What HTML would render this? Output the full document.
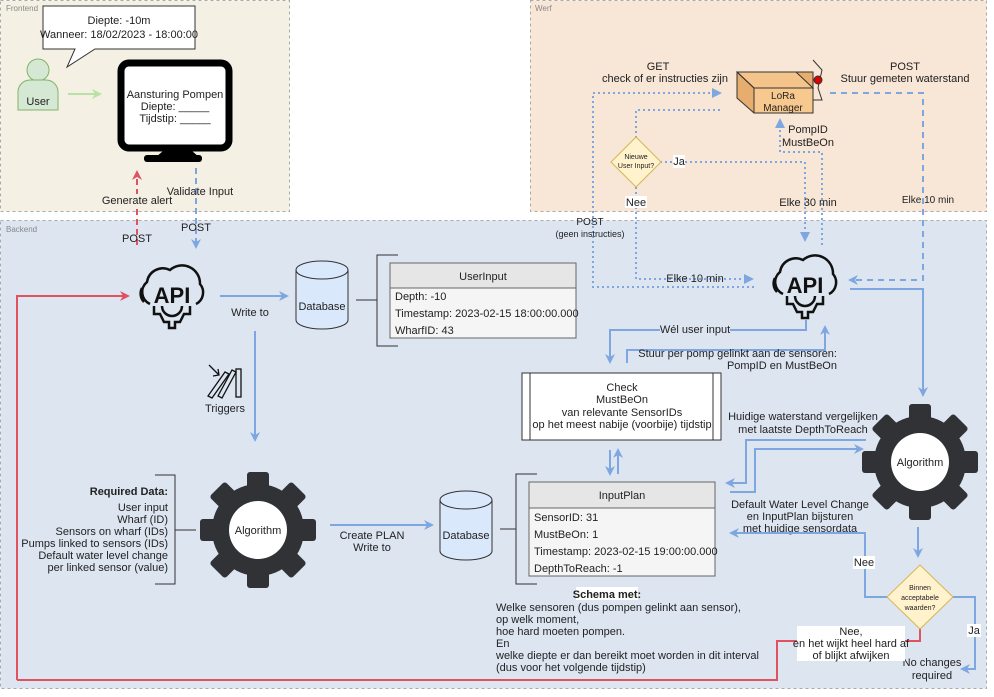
<!DOCTYPE html>
<html><head><meta charset="utf-8"><style>
html,body{margin:0;padding:0;background:#fff;}
svg{display:block;font-family:"Liberation Sans",Arial,sans-serif;}
text{font-size:11px;fill:#222;}
</style></head><body>
<svg width="994" height="697" viewBox="0 0 994 697" xmlns="http://www.w3.org/2000/svg">
<defs>
<marker id="ab" markerWidth="10" markerHeight="10" refX="8" refY="5" orient="auto" markerUnits="userSpaceOnUse"><path d="M0,0 L10,5 L0,10 L3,5z" fill="#7ea6e0"/></marker>
<marker id="ar" markerWidth="10" markerHeight="10" refX="8" refY="5" orient="auto" markerUnits="userSpaceOnUse"><path d="M0,0 L10,5 L0,10 L3,5z" fill="#e05260"/></marker>
<marker id="ag" markerWidth="10" markerHeight="10" refX="8" refY="5" orient="auto" markerUnits="userSpaceOnUse"><path d="M0,0 L10,5 L0,10 L3,5z" fill="#b9e0a5"/></marker>
<g id="gear">
<g fill="#303236">
<rect x="-11" y="-58" width="22" height="116" rx="3"/>
<rect x="-11" y="-58" width="22" height="116" rx="3" transform="rotate(45)"/>
<rect x="-11" y="-58" width="22" height="116" rx="3" transform="rotate(90)"/>
<rect x="-11" y="-58" width="22" height="116" rx="3" transform="rotate(135)"/>
<circle r="46"/>
</g>
<circle r="29" fill="#fff"/>
</g>
<g id="api" fill="none" stroke="#111" stroke-width="2.5">
<path d="M-22,14 A13,13 0 0 1 -25,-8 A16,16 0 0 1 -2,-20 A18,18 0 0 1 28,-6 A13,13 0 0 1 24,14"/>
<path d="M-30,-2 A12,12 0 0 0 -28,12" />
<path d="M-18,16 L-18,24 L-12,24 L-8,32 L-3,32 L-3,38 L3,38 L3,32 L8,32 L12,24 L18,24 L18,16"/>
<path d="M-10,16 A10,10 0 0 0 10,16"/>
</g>
</defs>

<!-- regions -->
<rect x="0.5" y="0.5" width="289" height="211" fill="#f5f0e4" stroke="#aaa" stroke-dasharray="3,3"/>
<text x="6" y="11" style="font-size:8px;fill:#888">Frontend</text>
<rect x="530.5" y="0.5" width="456" height="211" fill="#f8e6d6" stroke="#aaa" stroke-dasharray="3,3"/>
<text x="535" y="11" style="font-size:8px;fill:#888">Werf</text>
<rect x="0.5" y="220.5" width="986" height="468" fill="#dde5f1" stroke="#aaa" stroke-dasharray="3,3"/>
<text x="6" y="232" style="font-size:8px;fill:#888">Backend</text>

<!-- frontend -->
<path d="M43,6 H195 V49 H95 L67,67 L75,49 H43 Z" fill="#fff" stroke="#333"/>
<text x="119" y="24" text-anchor="middle">Diepte: -10m</text>
<text x="119" y="38" text-anchor="middle">Wanneer: 18/02/2023 - 18:00:00</text>
<circle cx="38" cy="70" r="11" fill="#d5e8d4" stroke="#82b366"/>
<path d="M18,110 V92 A12,12 0 0 1 30,80 H46 A12,12 0 0 1 58,92 V110 Z" fill="#d5e8d4" stroke="#82b366"/>
<text x="38" y="105" text-anchor="middle">User</text>
<line x1="68" y1="94" x2="100" y2="94" stroke="#b9e0a5" stroke-width="2" marker-end="url(#ag)"/>
<rect x="121" y="63" width="108" height="85" rx="8" fill="#fff" stroke="#000" stroke-width="7"/>
<path d="M163,151 H192 L199,157 H156 Z" fill="#000"/>
<rect x="144" y="147" width="58" height="7" rx="3" fill="#000" transform="translate(0,8)"/>
<text x="175" y="98" text-anchor="middle">Aansturing Pompen</text>
<text x="175" y="110" text-anchor="middle">Diepte: _____</text>
<text x="175" y="122" text-anchor="middle">Tijdstip: _____</text>
<line x1="137" y1="245" x2="137" y2="172" stroke="#e05260" stroke-width="2" stroke-dasharray="6,4" marker-end="url(#ar)"/>
<line x1="196" y1="168" x2="196" y2="247" stroke="#7ea6e0" stroke-width="2" stroke-dasharray="6,4" marker-end="url(#ab)"/>
<rect x="100" y="194" width="72" height="12" fill="#f5f0e4"/>
<text x="137" y="204" text-anchor="middle">Generate alert</text>
<text x="200" y="195" text-anchor="middle">Validate Input</text>
<text x="137" y="242" text-anchor="middle">POST</text>
<text x="196" y="231" text-anchor="middle">POST</text>

<!-- werf -->
<g fill="none" stroke="#7ea6e0" stroke-width="2" stroke-dasharray="2,3">
<path d="M720,93 H593 V287 H754"/>
<path d="M720,110 H636 V137"/>
<path d="M660,162 H805 V240" />
<path d="M636,187 V279 H752"/>
<path d="M822,245 V152 H780 V120"/>
</g>
<path d="M712,88 L722,93 L712,98 Z" fill="#7ea6e0"/>
<path d="M800,232 L805,242 L810,232 Z" fill="#7ea6e0"/>
<path d="M744,274 L754,279 L744,284 Z" fill="#7ea6e0"/>
<path d="M775,128 L780,118 L785,128 Z" fill="#7ea6e0"/>
<path d="M830,93 H923 V280 H850" fill="none" stroke="#7ea6e0" stroke-width="2" stroke-dasharray="6,5" marker-end="url(#ab)"/>
<text x="658" y="70" text-anchor="middle">GET</text>
<text x="665" y="82" text-anchor="middle">check of er instructies zijn</text>
<text x="905" y="70" text-anchor="middle">POST</text>
<text x="905" y="82" text-anchor="middle">Stuur gemeten waterstand</text>
<text x="808" y="133" text-anchor="middle">PompID</text>
<text x="808" y="146" text-anchor="middle">MustBeOn</text>
<path d="M737,72 L755,72 L813,72 L813,88 L813,113 L754,113 L737,98 Z" fill="#e7ad6e" stroke="#333"/>
<path d="M737,72 H796 L813,88 H754 Z" fill="#f5c48a" stroke="#333"/>
<rect x="754" y="88" width="59" height="25" fill="#f8c98f" stroke="#333"/>
<line x1="737" y1="72" x2="754" y2="88" stroke="#333"/>
<text x="783" y="99" text-anchor="middle" style="font-size:10px">LoRa</text>
<text x="783" y="111" text-anchor="middle" style="font-size:10px">Manager</text>
<path d="M813,100 H822 L818,88 L822,70 L813,60" fill="none" stroke="#333"/>
<circle cx="818" cy="80" r="4" fill="#d00" stroke="#333"/>
<path d="M636,137 L661,162 L636,187 L611,162 Z" fill="#fff2cc" stroke="#d6b656"/>
<text x="636" y="159" text-anchor="middle" style="font-size:7px">Nieuwe</text>
<text x="636" y="168" text-anchor="middle" style="font-size:7px">User Input?</text>
<rect x="673" y="155" width="12" height="13" fill="#fff"/>
<text x="679" y="165" text-anchor="middle">Ja</text>
<rect x="625" y="196" width="22" height="12" fill="#fff"/>
<text x="636" y="206" text-anchor="middle">Nee</text>
<text x="808" y="206" text-anchor="middle">Elke 30 min</text>
<text x="928" y="203" text-anchor="middle" style="font-size:10px">Elke 10 min</text>
<text x="590" y="225" text-anchor="middle" style="font-size:10px">POST</text>
<text x="590" y="237" text-anchor="middle" style="font-size:9px">(geen instructies)</text>
<text x="695" y="282" text-anchor="middle">Elke 10 min</text>

<!-- backend left -->
<use href="#api" x="172" y="290"/>
<text x="172" y="303" text-anchor="middle" style="font-size:22px;font-weight:bold;fill:#111">API</text>
<use href="#api" x="805" y="280"/>
<text x="805" y="293" text-anchor="middle" style="font-size:22px;font-weight:bold;fill:#111">API</text>

<path d="M17,680 V296 H128" fill="none" stroke="#e05260" stroke-width="2" marker-end="url(#ar)"/>
<path d="M17,680 H777 V641 H797" fill="none" stroke="#e05260" stroke-width="2"/>
<path d="M905,641 H920 V628" fill="none" stroke="#e05260" stroke-width="2"/>

<line x1="220" y1="296" x2="287" y2="296" stroke="#7ea6e0" stroke-width="2" marker-end="url(#ab)"/>
<text x="250" y="316" text-anchor="middle">Write to</text>
<path d="M296,270 V320 A26,9 0 0 0 348,320 V270" fill="#dae8fc" stroke="#333"/>
<ellipse cx="322" cy="270" rx="26" ry="9" fill="#dae8fc" stroke="#333"/>
<text x="322" y="310" text-anchor="middle">Database</text>
<line x1="356" y1="300" x2="377" y2="300" stroke="#333"/>
<path d="M398,255 H377 V346 H398" fill="none" stroke="#333"/>
<rect x="390" y="263" width="186" height="75" fill="#f5f5f5" stroke="#666"/>
<rect x="390" y="263" width="186" height="25" fill="#e6e6e6" stroke="#666"/>
<text x="483" y="280" text-anchor="middle">UserInput</text>
<text x="395" y="300">Depth: -10</text>
<text x="395" y="317">Timestamp: 2023-02-15 18:00:00.000</text>
<text x="395" y="334">WharfID: 43</text>

<line x1="255" y1="331" x2="255" y2="440" stroke="#7ea6e0" stroke-width="2" marker-end="url(#ab)"/>
<g stroke="#111" fill="none" stroke-width="1.3">
<path d="M208,396 L225,372 L229,374 L212,398 Z"/>
<path d="M218,396 L232,370 L236,372 L222,398 Z"/>
<rect x="236" y="369" width="5" height="28"/>
<path d="M209,365 L219,375 M213,376 L219,375 L218,369"/>
</g>
<text x="225" y="412" text-anchor="middle">Triggers</text>

<use href="#gear" x="258" y="530"/>
<text x="258" y="534" text-anchor="middle">Algorithm</text>
<path d="M155,475 H175 V584 H155" fill="none" stroke="#333"/>
<line x1="175" y1="530" x2="196" y2="530" stroke="#333"/>
<g text-anchor="end">
<text x="168" y="495" style="font-weight:bold">Required Data:</text>
<text x="168" y="511">User input</text>
<text x="168" y="523">Wharf (ID)</text>
<text x="168" y="535">Sensors on wharf (IDs)</text>
<text x="168" y="547">Pumps linked to sensors (IDs)</text>
<text x="168" y="559">Default water level change</text>
<text x="168" y="571">per linked sensor (value)</text>
</g>
<line x1="330" y1="525" x2="432" y2="525" stroke="#7ea6e0" stroke-width="2" marker-end="url(#ab)"/>
<text x="372" y="539" text-anchor="middle">Create PLAN</text>
<text x="372" y="551" text-anchor="middle">Write to</text>
<path d="M440,500 V551 A26,9 0 0 0 492,551 V500" fill="#dae8fc" stroke="#333"/>
<ellipse cx="466" cy="500" rx="26" ry="9" fill="#dae8fc" stroke="#333"/>
<text x="466" y="539" text-anchor="middle">Database</text>
<line x1="500" y1="529" x2="516" y2="529" stroke="#333"/>
<path d="M537,474 H516 V584 H537" fill="none" stroke="#333"/>
<rect x="529" y="482" width="186" height="94" fill="#f5f5f5" stroke="#666"/>
<rect x="529" y="482" width="186" height="26" fill="#e6e6e6" stroke="#666"/>
<text x="622" y="499" text-anchor="middle">InputPlan</text>
<text x="534" y="521">SensorID: 31</text>
<text x="534" y="538">MustBeOn: 1</text>
<text x="534" y="555">Timestamp: 2023-02-15 19:00:00.000</text>
<text x="534" y="572">DepthToReach: -1</text>
<rect x="576" y="587" width="62" height="13" fill="#fff"/>
<text x="607" y="598" text-anchor="middle" style="font-weight:bold">Schema met:</text>
<text x="496" y="611">Welke sensoren (dus pompen gelinkt aan sensor),</text>
<text x="496" y="623">op welk moment,</text>
<text x="496" y="635">hoe hard moeten pompen.</text>
<text x="496" y="647">En</text>
<text x="496" y="659">welke diepte er dan bereikt moet worden in dit interval</text>
<text x="496" y="671">(dus voor het volgende tijdstip)</text>

<!-- check box -->
<rect x="522" y="373" width="199" height="67" fill="#fff" stroke="#333"/>
<line x1="530" y1="373" x2="530" y2="440" stroke="#333"/>
<line x1="713" y1="373" x2="713" y2="440" stroke="#333"/>
<text x="622" y="391" text-anchor="middle">Check</text>
<text x="622" y="403" text-anchor="middle">MustBeOn</text>
<text x="622" y="416" text-anchor="middle">van relevante SensorIDs</text>
<text x="622" y="428" text-anchor="middle">op het meest nabije (voorbije) tijdstip</text>
<line x1="610" y1="450" x2="610" y2="474" stroke="#7ea6e0" stroke-width="2" marker-end="url(#ab)"/>
<line x1="618" y1="474" x2="618" y2="450" stroke="#7ea6e0" stroke-width="2" marker-end="url(#ab)"/>

<path d="M806,320 V330 H610 V362" fill="none" stroke="#7ea6e0" stroke-width="2" marker-end="url(#ab)"/>
<rect x="660" y="323" width="70" height="12" fill="#dde5f1"/>
<text x="695" y="333" text-anchor="middle">Wél user input</text>
<path d="M627,363 V350 H825 V327" fill="none" stroke="#7ea6e0" stroke-width="2" marker-end="url(#ab)"/>
<text x="837" y="357" text-anchor="end">Stuur per pomp gelinkt aan de sensoren:</text>
<text x="837" y="369" text-anchor="end">PompID en MustBeOn</text>

<path d="M850,289 H923 V395" fill="none" stroke="#7ea6e0" stroke-width="2" marker-end="url(#ab)"/>
<use href="#gear" x="920" y="462"/>
<text x="920" y="466" text-anchor="middle">Algorithm</text>
<path d="M866,440 H746 V483 H727" fill="none" stroke="#7ea6e0" stroke-width="2" marker-end="url(#ab)"/>
<path d="M730,492 H755 V449 H862" fill="none" stroke="#7ea6e0" stroke-width="2" marker-end="url(#ab)"/>
<text x="803" y="420" text-anchor="middle">Huidige waterstand vergelijken</text>
<text x="803" y="433" text-anchor="middle">met laatste DepthToReach</text>
<text x="800" y="508" text-anchor="middle">Default Water Level Change</text>
<text x="800" y="520" text-anchor="middle">en InputPlan bijsturen</text>
<text x="800" y="532" text-anchor="middle">met huidige sensordata</text>
<path d="M888,597 H865 V533 H731" fill="none" stroke="#7ea6e0" stroke-width="2" marker-end="url(#ab)"/>
<rect x="853" y="556" width="22" height="13" fill="#fff"/>
<text x="864" y="566" text-anchor="middle">Nee</text>
<line x1="918" y1="527" x2="918" y2="556" stroke="#7ea6e0" stroke-width="2" marker-end="url(#ab)"/>
<path d="M952,597 H975 V669 H962" fill="none" stroke="#7ea6e0" stroke-width="2" marker-end="url(#ab)"/>
<path d="M920,565 L953,597 L920,629 L887,597 Z" fill="#fff2cc" stroke="#d6b656"/>
<text x="920" y="590" text-anchor="middle" style="font-size:7px">Binnen</text>
<text x="920" y="600" text-anchor="middle" style="font-size:7px">acceptabele</text>
<text x="920" y="610" text-anchor="middle" style="font-size:7px">waarden?</text>
<rect x="967" y="624" width="14" height="13" fill="#fff"/>
<text x="974" y="634" text-anchor="middle">Ja</text>
<text x="932" y="666" text-anchor="middle">No changes</text>
<text x="932" y="679" text-anchor="middle">required</text>
<rect x="797" y="626" width="108" height="35" fill="#fff"/>
<text x="851" y="635" text-anchor="middle">Nee,</text>
<text x="851" y="647" text-anchor="middle">en het wijkt heel hard af</text>
<text x="851" y="659" text-anchor="middle">of blijkt afwijken</text>
</svg>
</body></html>
